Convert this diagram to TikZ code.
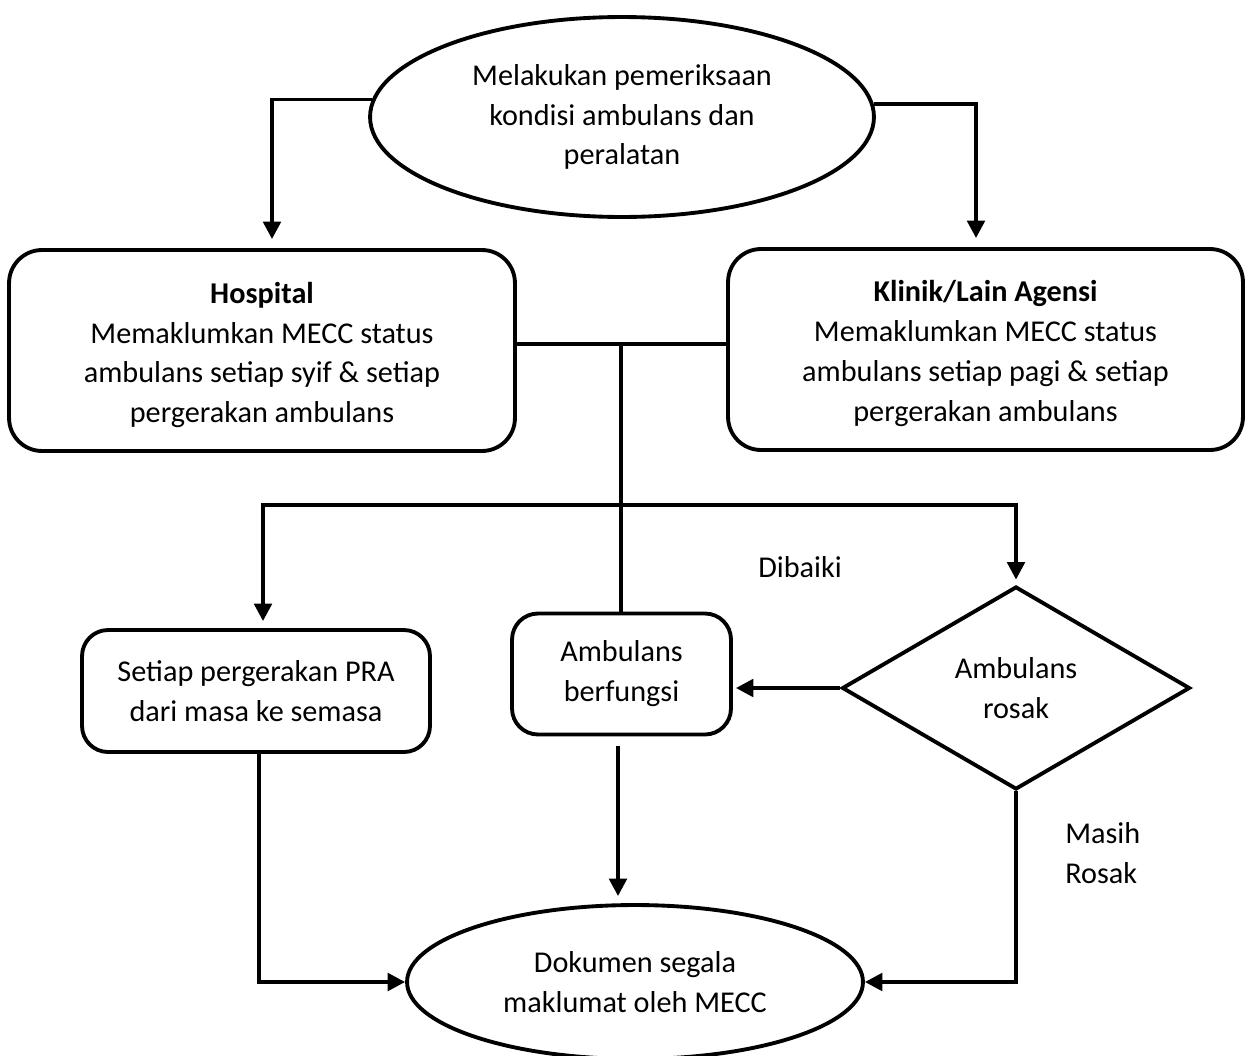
\documentclass[tikz,border=0pt]{standalone}
\usepackage{fontspec}
\setmainfont{Carlito}
\usetikzlibrary{arrows.meta,shapes.geometric}
\begin{document}
\begin{tikzpicture}[x=0.02cm,y=-0.02cm,
  every node/.style={font=\fontsize{17.2pt}{22.7pt}\selectfont, align=center, inner sep=0pt},
  shapeline/.style={draw=black, line width=2.2pt, fill=white},
  oval/.style={shapeline, ellipse},
  roundbox/.style={shapeline, rectangle, rounded corners=#1},
  decision/.style={shapeline, diamond},
  conn/.style={draw=black, line width=2.2pt},
  arr/.style={conn, -{Triangle[width=10pt,length=10pt]}}
]
% page area
\fill[white] (0,0) rectangle (1246,1055);
\useasboundingbox (0,0) rectangle (1246,1055);

% shapes
\node[oval, minimum width=10.08cm, minimum height=4.0cm] (top) at (622,117)
  {Melakukan pemeriksaan\\kondisi ambulans dan\\peralatan};
\node[roundbox=0.66cm, minimum width=10.12cm, minimum height=4.02cm] (hosp) at (262,350.5) {};
\node (hosptext) at (262,355)
  {\textbf{Hospital}\\Memaklumkan MECC status\\ambulans setiap syif \& setiap\\pergerakan ambulans};
\node[roundbox=0.66cm, minimum width=10.3cm, minimum height=4.02cm] (klinik) at (985.5,349.5) {};
\node (kliniktext) at (985.5,353.5)
  {\textbf{Klinik/Lain Agensi}\\Memaklumkan MECC status\\ambulans setiap pagi \& setiap\\pergerakan ambulans};
\node[roundbox=0.52cm, minimum width=6.96cm, minimum height=2.44cm] (setiap) at (256,691)
  {Setiap pergerakan PRA\\dari masa ke semasa};
\node[roundbox=0.52cm, minimum width=4.38cm, minimum height=2.42cm] (berf) at (621.5,674)
  {Ambulans\\berfungsi};
\node[decision, minimum width=6.96cm, minimum height=4.06cm] (dia) at (1016,688)
  {Ambulans\\rosak};
\node[oval, minimum width=9.12cm, minimum height=3.08cm] (bot) at (635,982)
  {Dokumen segala\\maklumat oleh MECC};

% labels on the branches
\node (lblfix) at (800,567) {Dibaiki};
\node[anchor=west, align=left] (lblbroken) at (1065,853) {Masih\\Rosak};

% junction points of the trunk lines
\coordinate (j1) at (621,344);
\coordinate (j2) at (621,505);

% from the check to both reporting boxes
\draw[arr, shorten >=0.18cm] (top.176.6) -| ([xshift=0.2cm]hosp.north);
\draw[arr, shorten >=0.18cm] (top.3.4) -| ([xshift=-0.19cm]klinik.north);

% trunk joining both boxes
\draw[conn] (hosp.east |- j1) -- (klinik.west |- j1);
\draw[conn] (j1) -- (j1 |- berf.north);

% branches to the three outcomes
\draw[arr, shorten >=0.14cm] (j2) -| ([xshift=0.14cm]setiap.north);
\draw[arr, shorten >=0.1cm] (j2) -| (dia.north);

% repaired ambulance returns to service
\draw[arr, shorten >=0.06cm] (dia.west) -- (dia.west -| berf.east);

% everything ends in the record
\draw[arr, shorten <=0.2cm, shorten >=0.14cm]
  ([xshift=-0.07cm]berf.south) -- ([xshift=-0.07cm]berf.south |- bot.north);
\draw[arr] ([xshift=0.06cm]setiap.south) |- (bot.west);
\draw[arr] (dia.south) |- (bot.east);
\end{tikzpicture}
\end{document}
